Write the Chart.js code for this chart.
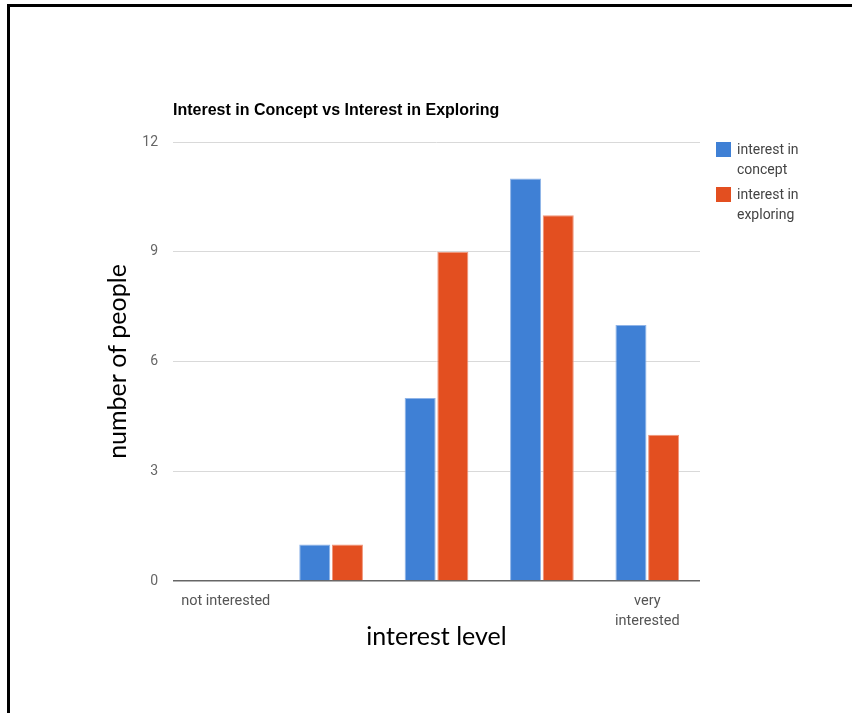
<!DOCTYPE html>
<html>
<head>
<meta charset="utf-8">
<script src="https://cdn.jsdelivr.net/npm/chart.js@4.4.1/dist/chart.umd.min.js"></script>
<style>
  html, body { margin: 0; padding: 0; background: #fff; }
  #wrap { position: relative; width: 852px; height: 713px; overflow: hidden; }
  #frame { position: absolute; left: 7px; top: 4px; width: 860px; height: 720px;
           border-top: 3px solid #000; border-left: 3px solid #000; box-sizing: border-box; pointer-events: none; }
  canvas { position: absolute; left: 0; top: 0; }
</style>
</head>
<body>
<div id="wrap">
  <canvas id="chart" width="852" height="713"></canvas>
  <div id="frame"></div>
</div>
<script>
// Survey answers grouped by interest level (1 = not interested ... 5 = very interested)
const categories = ["not interested", "", "", "", ["very", "interested"]];
const conceptValues = [0, 1, 5, 11, 7];
const exploringValues = [0, 1, 9, 10, 4];
const seriesNames = [["interest in", "concept"], ["interest in", "exploring"]];
const chartTitle = "Interest in Concept vs Interest in Exploring";
const yTitle = "number of people";
const xTitle = "interest level";

const BLUE = "#3f80d5";
const ORANGE = "#e34f20";

// Title drawn flush with the plot area's left edge
const titlePlugin = {
  id: "leftTitle",
  afterDraw(chart) {
    const ctx = chart.ctx;
    ctx.save();
    ctx.font = "bold 16px 'Liberation Sans', Arial, sans-serif";
    ctx.fillStyle = "#000";
    ctx.textAlign = "left";
    ctx.textBaseline = "alphabetic";
    ctx.fillText(chartTitle, chart.chartArea.left, 115);
    ctx.restore();
  }
};

// Right-hand legend with wrapped series names
const sideLegend = {
  id: "sideLegend",
  afterDraw(chart) {
    const ctx = chart.ctx;
    const x0 = chart.chartArea.right + 16;
    let y0 = chart.chartArea.top;
    ctx.save();
    ctx.font = "14px Roboto, sans-serif";
    ctx.textAlign = "left";
    ctx.textBaseline = "middle";
    chart.data.datasets.forEach((ds) => {
      ctx.fillStyle = ds.backgroundColor;
      ctx.fillRect(x0, y0, 15, 15);
      ctx.fillStyle = "#444";
      ds.label.forEach((line, i) => {
        ctx.fillText(line, x0 + 21, y0 + 8 + i * 20);
      });
      y0 += 45;
    });
    ctx.restore();
  }
};

new Chart(document.getElementById("chart"), {
  type: "bar",
  data: {
    labels: categories,
    datasets: [
      { label: seriesNames[0], data: conceptValues, backgroundColor: BLUE,
        borderColor: "#8fb4e8", borderWidth: { top: 1, left: 1, right: 1, bottom: 0 } },
      { label: seriesNames[1], data: exploringValues, backgroundColor: ORANGE,
        borderColor: "#f0957a", borderWidth: { top: 1, left: 1, right: 1, bottom: 0 } }
    ]
  },
  options: {
    responsive: false,
    animation: false,
    layout: { padding: { left: 0, top: 142, right: 152, bottom: 0 } },
    datasets: { bar: { categoryPercentage: 0.62, barPercentage: 0.95 } },
    plugins: {
      legend: { display: false },
      title: { display: false },
      tooltip: { enabled: false }
    },
    scales: {
      x: {
        grid: { display: false, drawTicks: false },
        border: { display: false },
        ticks: {
          color: "#555",
          font: { family: "Roboto, sans-serif", size: 14.5, lineHeight: 1.35 },
          padding: 11,
          maxRotation: 0,
          autoSkip: false
        },
        title: {
          display: true,
          text: xTitle,
          color: "#000",
          font: { family: "Lato, sans-serif", size: 25, lineHeight: 1.2 },
          padding: { top: 0, bottom: 61 }
        },
        afterFit(scale) { scale.height = 132; }
      },
      y: {
        min: 0,
        max: 12,
        ticks: {
          stepSize: 3,
          color: "#666",
          font: { family: "Roboto, sans-serif", size: 14 },
          padding: 15
        },
        grid: {
          drawTicks: false,
          color: (c) => (c.tick && c.tick.value === 0 ? "#666" : "#d9d9d9"),
          lineWidth: (c) => (c.tick && c.tick.value === 0 ? 1.5 : 1)
        },
        border: { display: false },
        title: {
          display: true,
          text: yTitle,
          color: "#000",
          font: { family: "Lato, sans-serif", size: 25, lineHeight: 1.2 },
          padding: { top: 103, bottom: 0 }
        },
        afterFit(scale) { scale.width = 173; }
      }
    }
  },
  plugins: [titlePlugin, sideLegend]
});
</script>
</body>
</html>
